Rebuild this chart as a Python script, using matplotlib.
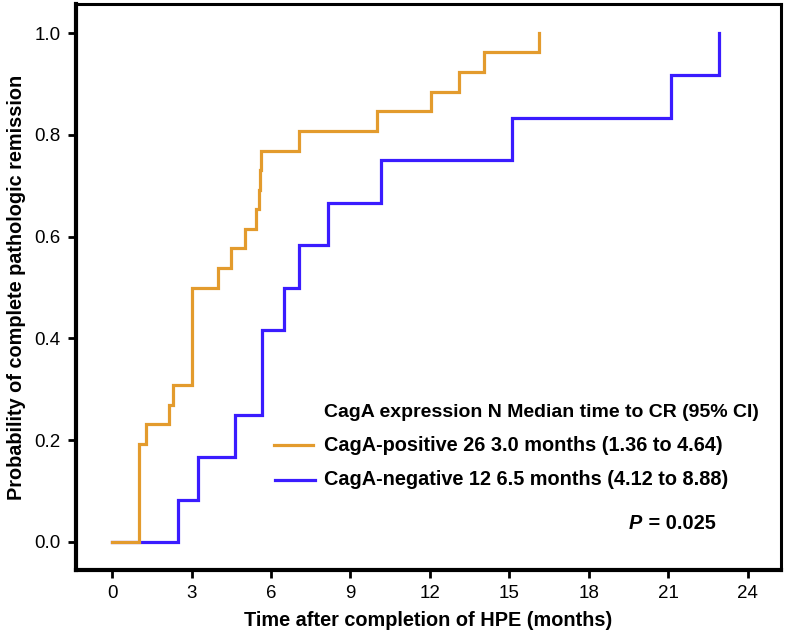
import matplotlib
matplotlib.use("Agg")
import matplotlib.pyplot as plt
from matplotlib.lines import Line2D

plt.rcParams['font.family'] = ['Liberation Sans', 'DejaVu Sans']

# Kaplan-Meier style cumulative remission curves
pos_time = [0, 1.0, 1.3, 2.15, 2.3, 3.0, 4.0, 4.5, 5.0, 5.45, 5.53, 5.57, 5.62, 7.05, 10.0, 12.05, 13.1, 14.05, 16.1]
pos_prob = [0, 0.192, 0.231, 0.269, 0.308, 0.500, 0.538, 0.577, 0.615, 0.654, 0.692, 0.731, 0.769, 0.808, 0.846, 0.885, 0.923, 0.962, 1.0]

neg_time = [0, 2.5, 3.25, 4.65, 5.65, 6.5, 7.05, 8.15, 10.15, 15.1, 21.1, 22.9]
neg_prob = [0, 0.083, 0.167, 0.250, 0.417, 0.500, 0.583, 0.667, 0.750, 0.833, 0.917, 1.0]

pos_color = '#E39B2D'
neg_color = '#3A1CFF'

xticks = [0, 3, 6, 9, 12, 15, 18, 21, 24]
yticks = [0.0, 0.2, 0.4, 0.6, 0.8, 1.0]

fig = plt.figure(figsize=(7.87, 6.39), dpi=100)
ax = fig.add_axes([0.0966, 0.108, 0.8958, 0.8857])

ax.step(neg_time, neg_prob, where='post', color=neg_color, lw=2.3, solid_joinstyle='miter')
ax.step(pos_time, pos_prob, where='post', color=pos_color, lw=2.3, solid_joinstyle='miter')

ax.set_xlim(-1.36, 25.25)
ax.set_ylim(-0.055, 1.057)
ax.set_xticks(xticks)
ax.set_yticks(yticks)
ax.set_yticklabels([f"{v:.1f}" for v in yticks])
ax.tick_params(axis='both', direction='out', length=6, width=2, labelsize=13.5, pad=5)

for side in ['left', 'bottom']:
    ax.spines[side].set_linewidth(3)
for side in ['top', 'right']:
    ax.spines[side].set_linewidth(2.2)

ax.set_xlabel('Time after completion of HPE (months)', fontsize=14.3, fontweight='bold', labelpad=6)
ax.set_ylabel('Probability of complete pathologic remission', fontsize=14.3, fontweight='bold', labelpad=6)

# legend block
ax.text(8.0, 0.255, 'CagA expression N Median time to CR (95% CI)', fontsize=14, fontweight='bold', va='center')
ax.add_line(Line2D([6.1, 7.6], [0.19, 0.19], color=pos_color, lw=2.3))
ax.text(8.0, 0.19, 'CagA-positive 26 3.0 months (1.36 to 4.64)', fontsize=14.3, fontweight='bold', va='center')
ax.add_line(Line2D([6.15, 7.65], [0.122, 0.122], color=neg_color, lw=2.3))
ax.text(8.0, 0.122, 'CagA-negative 12 6.5 months (4.12 to 8.88)', fontsize=14.3, fontweight='bold', va='center')
ax.text(19.5, 0.037, 'P', fontsize=14.3, fontweight='bold', fontstyle='italic', va='center')
ax.text(20.05, 0.037, ' = 0.025', fontsize=14.3, fontweight='bold', va='center')

fig.savefig('out.png', dpi=100)
